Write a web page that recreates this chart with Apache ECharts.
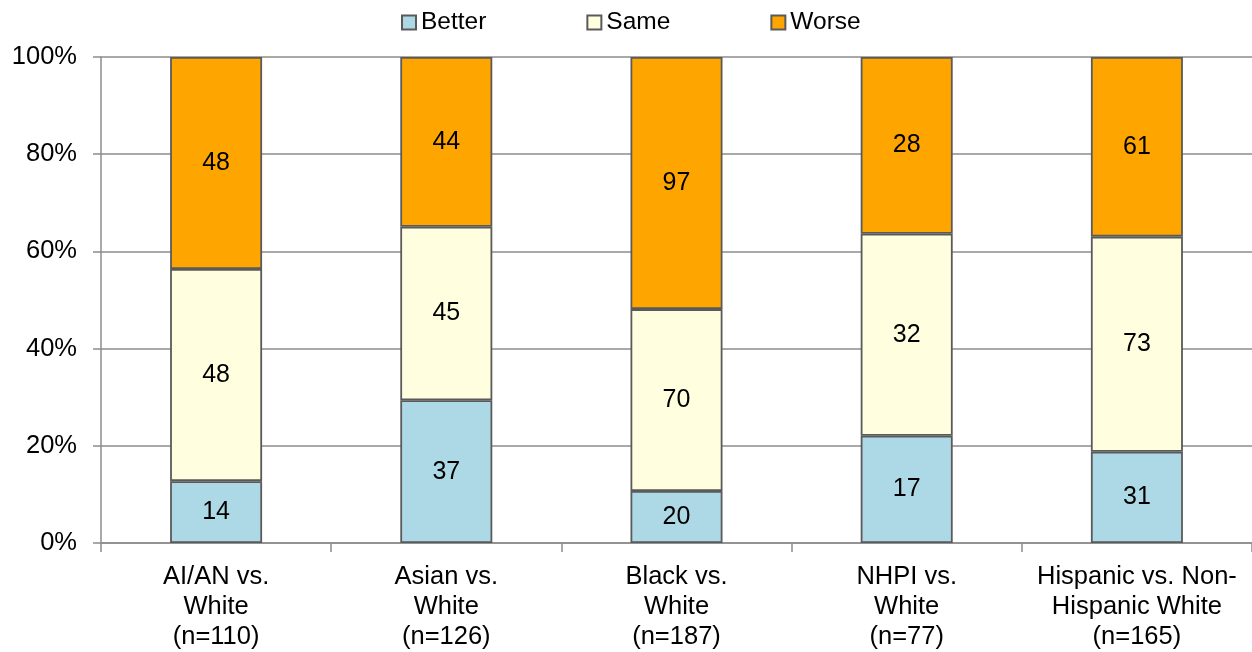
<!DOCTYPE html>
<html>
<head>
<meta charset="utf-8">
<script src="https://cdn.jsdelivr.net/npm/echarts@6/dist/echarts.min.js"></script>
<style>
  html, body { margin: 0; padding: 0; background: #fff; }
  #chart { width: 1252px; height: 652px; }
</style>
</head>
<body>
<div id="chart"></div>
<script>
const categories = [
  'AI/AN vs.\nWhite\n(n=110)',
  'Asian vs.\nWhite\n(n=126)',
  'Black vs.\nWhite\n(n=187)',
  'NHPI vs.\nWhite\n(n=77)',
  'Hispanic vs. Non-\nHispanic White\n(n=165)'
]
const better = [14, 37, 20, 17, 31]
const same = [48, 45, 70, 32, 73]
const worse = [48, 44, 97, 28, 61]
const yTicks = [0, 20, 40, 60, 80, 100]

const font = '"Liberation Sans", Arial, sans-serif'
const axisGray = '#8c8c8c'

const totals = better.map((b, i) => b + same[i] + worse[i])
const pct = (arr) => arr.map((v, i) => v / totals[i] * 100)

const makeSeries = (name, counts, color) => ({
  name: name,
  type: 'bar',
  stack: 'all',
  barWidth: 92,
  data: pct(counts),
  itemStyle: {
    color: color,
    borderColor: '#5a5a5a',
    borderWidth: 1.8
  },
  label: {
    show: true,
    position: 'inside',
    color: '#000',
    fontFamily: font,
    fontSize: 25,
    formatter: (p) => counts[p.dataIndex]
  }
})

const myChart = echarts.init(document.getElementById('chart'))
const option = {
  animation: false,
  legend: {
    left: 396,
    top: 5,
    itemWidth: 14,
    itemHeight: 14,
    itemGap: 100,
    icon: 'rect',
    textStyle: { fontFamily: font, fontSize: 24.5, color: '#000', padding: [0, 0, 0, 0] },
    data: ['Better', 'Same', 'Worse']
  },
  grid: {
    left: 101,
    top: 57,
    width: 1152,
    bottom: 109,
    containLabel: false
  },
  xAxis: {
    type: 'category',
    data: categories,
    axisLine: { lineStyle: { color: axisGray, width: 1.5 } },
    axisTick: { show: true, length: 9, lineStyle: { color: axisGray, width: 1.5 } },
    axisLabel: {
      fontFamily: font,
      fontSize: 25.5,
      color: '#000',
      lineHeight: 30,
      margin: 19,
      interval: 0
    }
  },
  yAxis: {
    type: 'value',
    min: yTicks[0],
    max: yTicks[yTicks.length - 1],
    interval: yTicks[1] - yTicks[0],
    axisLine: { show: true, lineStyle: { color: axisGray, width: 1.5 } },
    axisTick: { show: true, length: 8, lineStyle: { color: axisGray, width: 1.5 } },
    splitLine: { lineStyle: { color: axisGray, width: 1.5 } },
    axisLabel: {
      fontFamily: font,
      fontSize: 25.5,
      color: '#000',
      margin: 24,
      formatter: '{value}%'
    }
  },
  series: [
    makeSeries('Better', better, '#add8e6'),
    makeSeries('Same', same, '#ffffe0'),
    makeSeries('Worse', worse, '#ffa500')
  ]
}
option && myChart.setOption(option)
</script>
</body>
</html>
